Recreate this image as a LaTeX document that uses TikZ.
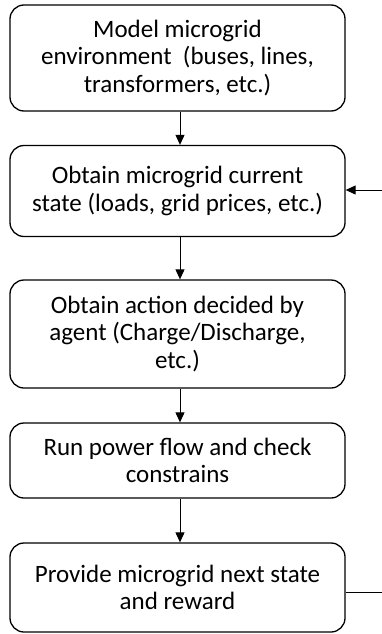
\documentclass[tikz,border=0pt]{standalone}
\usepackage{fontspec}
\setmainfont{Carlito}
\usetikzlibrary{arrows.meta}
\begin{document}
\begin{tikzpicture}[x=1pt,y=1pt,
  stepbox/.style={draw=black, line width=1.3pt, rounded corners=14pt, minimum width=335pt,
    inner sep=0pt, align=center, font=\fontsize{25}{27.5}\selectfont},
  conn/.style={line width=1pt, -{Triangle[length=10pt,width=9pt]}}]
\useasboundingbox (0,0) rectangle (382,-634);
\node[stepbox, minimum height=106pt] (b1) at (177.5,-58) {Model microgrid\\environment\ \ (buses, lines,\\transformers, etc.)};
\node[stepbox, minimum height=91pt] (b2) at (177.5,-191) {Obtain microgrid current\\state (loads, grid prices, etc.)};
\node[stepbox, minimum height=108pt] (b3) at (177.5,-334) {Obtain action decided by\\agent (Charge/Discharge,\\etc.)};
\node[stepbox, minimum height=75pt] (b4) at (177.5,-460.5) {Run power flow and check\\constrains};
\node[stepbox, minimum height=89pt] (b5) at (177.5,-587.5) {Provide microgrid next state\\and reward};
\coordinate (fin) at (382,-190);
\coordinate (fout) at (382,-592);
\draw[conn] (b1.south -| 180,0) -- (b2.north -| 180,0);
\draw[conn] (b2.south -| 180,0) -- (b3.north -| 180,0);
\draw[conn] (b3.south -| 180,0) -- (b4.north -| 180,0);
\draw[conn] (b4.south -| 180,0) -- (b5.north -| 180,0);
\draw[conn] (fin) -- (fin -| b2.east);
\draw[line width=1pt] (fout -| b5.east) -- (fout);
\end{tikzpicture}
\end{document}
